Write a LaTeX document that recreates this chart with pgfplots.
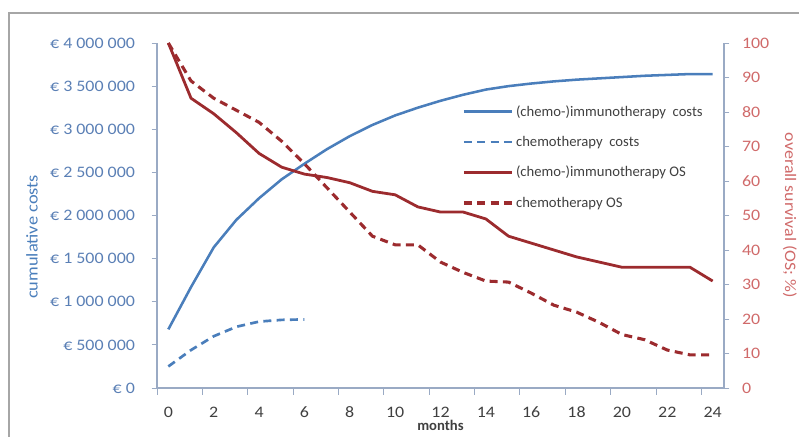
\documentclass[border=0pt]{standalone}
\usepackage{fontspec}
\setmainfont{Carlito}
\newfontfamily\tickfont{Carlito}[FakeStretch=1.12]
\usepackage{pgfplots}
\usepackage{pgfplotstable}
\pgfplotsset{compat=1.18}
\definecolor{cblue}{HTML}{4A7EBB}
\definecolor{cred}{HTML}{9C2B2E}
\definecolor{tblue}{HTML}{5A7FB5}
\definecolor{tred}{HTML}{D06A6A}
\definecolor{axgray}{HTML}{9AAAC4}
\definecolor{txt}{HTML}{404040}

\pgfplotstableread{
m cost
0 680000
1 1170000
2 1630000
3 1950000
4 2200000
5 2420000
6 2600000
7 2770000
8 2920000
9 3050000
10 3160000
11 3250000
12 3330000
13 3400000
14 3460000
15 3500000
16 3530000
17 3555000
18 3575000
19 3590000
20 3605000
21 3620000
22 3630000
23 3640000
24 3640000
}\costio
\pgfplotstableread{
m cost
0 250000
1 440000
2 600000
3 710000
4 770000
5 790000
6 795000
}\costchemo
\pgfplotstableread{
m os
0 100
1 84
2 79.5
3 74
4 68
5 64
6 62
7 61
8 59.5
9 57
10 56
11 52.5
12 51
13 51
14 49
15 44
16 42
17 40
18 38
19 36.5
20 35
21 35
22 35
23 35
24 31
}\osio
\pgfplotstableread{
m os
0 100
1 89
2 84
3 80.5
4 77
5 71.5
6 65
7 58
8 51
9 44
10 41.5
11 41.5
12 36.5
13 33.5
14 31
15 30.7
16 27.5
17 24
18 22
19 19
20 15.5
21 14
22 11
23 9.6
24 9.6
}\oschemo

\begin{document}
\begin{tikzpicture}
\path[use as bounding box] (-117.75pt,-36pt) rectangle (481.5pt,291pt);
\draw[gray!70, line width=0.8pt] (-111pt,-40pt) -- (-111pt,281.25pt) -- (490pt,281.25pt);
\begin{axis}[
  at={(0,0)}, anchor=south west,
  scale only axis, width=425.25pt, height=258.75pt,
  xmin=-0.5, xmax=24.5, ymin=0, ymax=4000000,
  axis y line*=left, axis x line*=bottom,
  axis line style={-, draw=axgray, line width=0.8pt},
  tick align=outside,
  xtick={0,2,...,24},
  xticklabels={0,2,4,6,8,10,12,14,16,18,20,22,24},
  major x tick style={draw=none},
  minor xtick={-0.5,1.5,...,23.5},
  minor tick length=5pt,
  major tick length=4pt,
  every tick/.style={draw=axgray, line width=0.6pt},
  ytick={0,500000,1000000,1500000,2000000,2500000,3000000,3500000,4000000},
  yticklabels={€ 0,€ 500 000,€ 1 000 000,€ 1 500 000,€ 2 000 000,€ 2 500 000,€ 3 000 000,€ 3 500 000,€ 4 000 000},
  scaled y ticks=false,
  xticklabel style={font=\tickfont\fontsize{12}{14}\selectfont, text=txt, anchor=center, yshift=-14pt},
  yticklabel style={font=\tickfont\fontsize{12}{14}\selectfont, text=tblue, xshift=-9pt},
  ylabel={cumulative costs},
  ylabel style={at={(axis description cs:-0.2205,0.438)}, anchor=center, font=\tickfont\fontsize{12.3}{14}\selectfont, text=cblue},
  xlabel={months},
  xlabel style={at={(axis description cs:0.5,0)}, anchor=south, yshift=-35.3pt, font=\bfseries\fontsize{11}{13}\selectfont, text=txt},
  clip=false,
]
\addplot[cblue, line width=1.9pt] table[x=m,y=cost] {\costio};
\addplot[cblue, line width=2pt, dash pattern=on 6pt off 4pt] table[x=m,y=cost] {\costchemo};
\end{axis}
\begin{axis}[
  at={(0,0)}, anchor=south west,
  scale only axis, width=425.25pt, height=258.75pt,
  xmin=-0.5, xmax=24.5, ymin=0, ymax=100,
  axis y line*=right, axis x line=none,
  axis line style={-, draw=axgray, line width=0.8pt},
  tick align=outside,
  major tick length=4pt,
  every tick/.style={draw=axgray, line width=0.6pt},
  ytick={0,10,...,100},
  yticklabels={0,10,20,30,40,50,60,70,80,90,100},
  yticklabel style={font=\tickfont\fontsize{12}{14}\selectfont, text=tred, xshift=6pt},
  ylabel={overall survival (OS; \%)},
  ylabel style={at={(axis description cs:1.116,0.5)}, anchor=center, rotate=180, font=\tickfont\fontsize{12}{14}\selectfont, text=tred},
  legend style={at={(0.538,0.828)}, anchor=north west, draw=none, fill=none, font=\fontsize{11}{13}\selectfont, text=txt, row sep=9.5pt, inner sep=0pt},
  legend cell align=left,
  legend image code/.code={\draw[#1] (0pt,0pt) -- (36pt,0pt);},
  clip=false,
]
\addlegendimage{cblue, line width=1.9pt}
\addlegendentry{(chemo-)immunotherapy\ \ costs}
\addlegendimage{cblue, line width=2pt, dash pattern=on 6pt off 4pt}
\addlegendentry{chemotherapy\ \ costs}
\addlegendimage{cred, line width=2.1pt}
\addlegendentry{(chemo-)immunotherapy OS}
\addlegendimage{cred, line width=2.3pt, dash pattern=on 6pt off 4pt}
\addlegendentry{chemotherapy OS}
\addplot[cred, line width=2.1pt, forget plot] table[x=m,y=os] {\osio};
\addplot[cred, line width=2.3pt, dash pattern=on 6pt off 4pt, forget plot] table[x=m,y=os] {\oschemo};
\end{axis}
\end{tikzpicture}
\end{document}
